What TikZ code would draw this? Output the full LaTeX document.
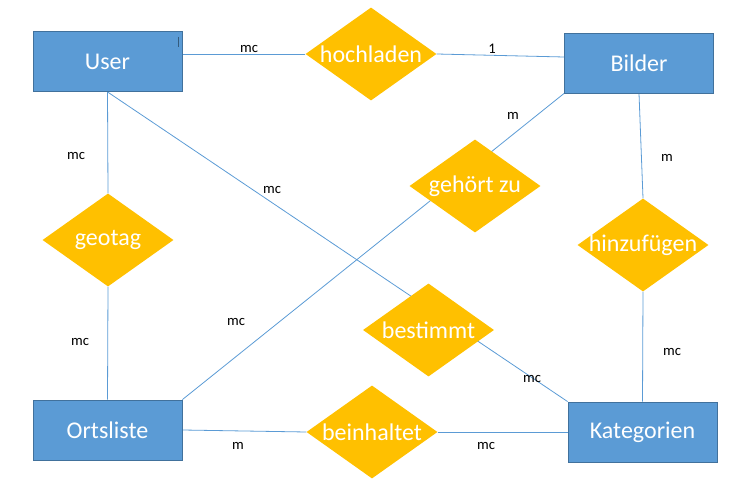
\documentclass[tikz,border=0pt]{standalone}
\usepackage{fontspec}
\setmainfont{Carlito}
\usetikzlibrary{shapes.geometric,backgrounds}

\definecolor{boxblue}{HTML}{5B9BD5}
\definecolor{boxline}{HTML}{41719C}
\definecolor{gold}{HTML}{FFC000}

\tikzset{
  entity/.style={rectangle, draw=boxline, line width=0.9pt, fill=boxblue, text=white,
    minimum width=149pt, minimum height=60pt, font=\fontsize{24}{28}\selectfont},
  relation/.style={diamond, fill=gold, minimum width=131pt, minimum height=93pt, inner sep=0pt},
  reltext/.style={text=white, inner sep=0pt, font=\fontsize{24}{28}\selectfont},
  link/.style={draw=boxblue, line width=0.8pt},
  card/.style={font=\fontsize{14.67}{17}\selectfont, inner sep=0pt}
}

\begin{document}
\begin{tikzpicture}[x=1pt,y=-1pt]
\useasboundingbox (0,0) rectangle (736,486);
% entities
\node[entity] (user) at (107.5,61.5) {User};
\node[entity] (bilder) at (639,63) {Bilder};
\node[entity] (ortsliste) at (107.5,430) {Ortsliste};
\node[entity] (kategorien) at (642.5,432) {Kategorien};
\draw[boxline!80!black, line width=0.8pt] (178,37) -- (178,47);
% relations
\node[relation, label={[reltext]center:hochladen}] (hochladen) at (371,54) {};
\node[relation, label={[reltext]center:gehört zu}] (gehoert) at (475,186) {};
\node[relation, label={[reltext]center:geotag}] (geotag) at (108,240) {};
\node[relation, label={[reltext]center:hinzufügen}] (hinzufuegen) at (643,245) {};
\node[relation, label={[reltext]center:bestimmt}] (bestimmt) at (428.5,330) {};
\node[relation, label={[reltext]center:beinhaltet}] (beinhaltet) at (372,432) {};
% connectors
\begin{pgfonlayer}{background}
  \draw[link] (hochladen.west) -- (hochladen.west -| user.east);
  \draw[link] (hochladen.east) -- ([yshift=6pt]bilder.west);
  \draw[link] (user.south) -- (geotag.north);
  \draw[link] (geotag.south) -- (ortsliste.north);
  \draw[link] (bilder.south) -- (hinzufuegen.north);
  \draw[link] (hinzufuegen.south) -- (kategorien.north);
  \draw[link] (user.south) -- (kategorien.north west);
  \draw[link] (ortsliste.north east) -- (bilder.south west);
  \draw[link] (ortsliste.east) -- (beinhaltet.west);
  \draw[link] (beinhaltet.east) -- (kategorien.west);
\end{pgfonlayer}
% cardinalities
\node[card] (c1) at (249,49) {mc};
\node[card] (c2) at (492,49) {1};
\node[card] (c3) at (76,156) {mc};
\node[card] (c4) at (272,190) {mc};
\node[card] (c5) at (513,116) {m};
\node[card] (c6) at (667,158) {m};
\node[card] (c7) at (80,342) {mc};
\node[card] (c8) at (236,322) {mc};
\node[card] (c9) at (672,352) {mc};
\node[card] (c10) at (532,379) {mc};
\node[card] (c11) at (238,446) {m};
\node[card] (c12) at (486,446) {mc};
\end{tikzpicture}
\end{document}
